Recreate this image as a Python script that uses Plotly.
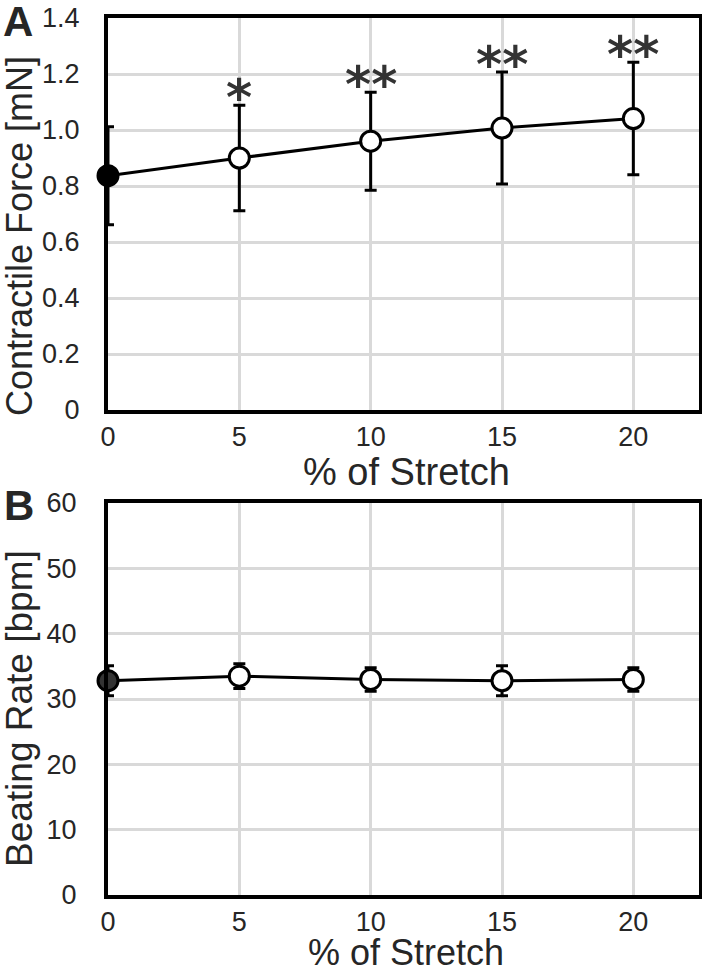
import plotly.graph_objects as go

stretch = [0, 5, 10, 15, 20]
force_mean = [0.837, 0.900, 0.960, 1.007, 1.041]
force_err = [0.175, 0.188, 0.175, 0.200, 0.201]
force_sig = ["", "*", "**", "**", "**"]
rate_mean = [32.8, 33.5, 33.0, 32.8, 33.0]
rate_err = [2.3, 1.9, 1.8, 2.3, 1.8]

x_ticks = [0, 5, 10, 15, 20]
force_ticks = [0, 0.2, 0.4, 0.6, 0.8, 1.0, 1.2, 1.4]
force_ticklabels = ["0", "0.2", "0.4", "0.6", "0.8", "1.0", "1.2", "1.4"]
rate_ticks = [0, 10, 20, 30, 40, 50, 60]

W, H = 702, 971
FONT = "Liberation Sans"
TXT = "#262626"

fig = go.Figure()

fig.add_trace(go.Scatter(
    x=stretch, y=force_mean, mode="lines+markers",
    error_y=dict(type="data", array=force_err, visible=True, thickness=3, width=6, color="black"),
    line=dict(color="black", width=3),
    marker=dict(size=20, color=["black"] + ["white"] * 4, line=dict(color="black", width=3)),
    cliponaxis=False, xaxis="x", yaxis="y", showlegend=False))

fig.add_trace(go.Scatter(
    x=stretch, y=rate_mean, mode="lines+markers",
    error_y=dict(type="data", array=rate_err, visible=True, thickness=3, width=6, color="black"),
    line=dict(color="black", width=3),
    marker=dict(size=20, color=["#333333"] + ["white"] * 4, line=dict(color="black", width=3)),
    cliponaxis=False, xaxis="x2", yaxis="y2", showlegend=False))

def px_x(p):
    return p / W

def px_y(p):
    return 1 - p / H

ax_common = dict(showline=True, mirror=True, linewidth=4, linecolor="black",
                 showgrid=True, gridcolor="#d9d9d9", gridwidth=2.5, zeroline=False,
                 automargin=False, ticks="", ticklabeloverflow="allow",
                 tickfont=dict(family=FONT, size=27, color=TXT))

fig.update_layout(
    width=W, height=H, margin=dict(l=0, r=0, t=0, b=0, autoexpand=False),
    paper_bgcolor="white", plot_bgcolor="white",
    xaxis=dict(domain=[px_x(108), px_x(699)], range=[0, 22.5], tickvals=x_ticks,
               anchor="y", ticklabelstandoff=0, **ax_common),
    yaxis=dict(domain=[px_y(410), px_y(18)], range=[0, 1.4], tickvals=force_ticks,
               ticktext=force_ticklabels, anchor="x", ticklabelstandoff=19, **ax_common),
    xaxis2=dict(domain=[px_x(108), px_x(699)], range=[0, 22.5], tickvals=x_ticks,
                anchor="y2", ticklabelstandoff=0, **ax_common),
    yaxis2=dict(domain=[px_y(895), px_y(503)], range=[0, 60], tickvals=rate_ticks,
                anchor="x2", ticklabelstandoff=22, **ax_common),
)

ann = []
for xv, m, e, s in zip(stretch, force_mean, force_err, force_sig):
    if s:
        ann.append(dict(x=xv, y=m + e, xref="x", yref="y", text=s, showarrow=False,
                        yanchor="bottom", yshift=-24,
                        font=dict(family="DejaVu Sans", size=50, color="#333333", weight="bold")))

ann += [
    dict(x=px_x(19), y=px_y(236), xref="paper", yref="paper", text="Contractile Force [mN]",
         textangle=-90, showarrow=False, font=dict(family=FONT, size=36, color=TXT),
         xanchor="center", yanchor="middle"),
    dict(x=px_x(19), y=px_y(709), xref="paper", yref="paper", text="Beating Rate [bpm]",
         textangle=-90, showarrow=False, font=dict(family=FONT, size=37, color=TXT),
         xanchor="center", yanchor="middle"),
    dict(x=px_x(406), y=px_y(472), xref="paper", yref="paper", text="% of Stretch",
         showarrow=False, font=dict(family=FONT, size=38, color=TXT), xanchor="center", yanchor="middle"),
    dict(x=px_x(406), y=px_y(952), xref="paper", yref="paper", text="% of Stretch",
         showarrow=False, font=dict(family=FONT, size=36, color=TXT), xanchor="center", yanchor="middle"),
    dict(x=px_x(18), y=px_y(21), xref="paper", yref="paper", text="<b>A</b>",
         showarrow=False, font=dict(family=FONT, size=42, color=TXT), xanchor="center", yanchor="middle"),
    dict(x=px_x(19), y=px_y(505), xref="paper", yref="paper", text="<b>B</b>",
         showarrow=False, font=dict(family=FONT, size=42, color=TXT), xanchor="center", yanchor="middle"),
]
fig.update_layout(annotations=ann)

fig.write_html(
    "out.html",
    config={"displayModeBar": False},
    post_script="document.body.style.margin='0';document.documentElement.style.overflow='hidden';",
)
